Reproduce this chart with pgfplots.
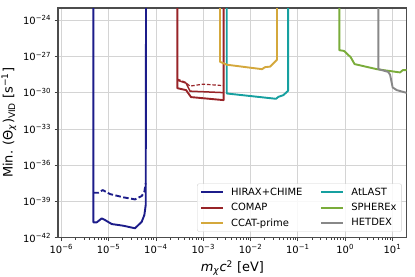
\documentclass[border=0pt]{standalone}
\usepackage{fontspec}
\setmainfont{DejaVu Sans}
\usepackage{pgfplots}
\pgfplotsset{compat=1.18}
\definecolor{cHir}{RGB}{28,28,138}
\definecolor{cCom}{RGB}{152,36,40}
\definecolor{cCcat}{RGB}{212,168,60}
\definecolor{cAtl}{RGB}{22,160,160}
\definecolor{cSph}{RGB}{122,172,58}
\definecolor{cHet}{RGB}{136,136,136}
\begin{document}
\begin{tikzpicture}
\begin{axis}[
 scale only axis,
 width=348.7bp, height=229.7bp,
 xmode=log, ymode=log,
 xmin=8.5e-7, xmax=20,
 ymin=1e-42, ymax=1e-23,
 xtick={1e-6,1e-5,1e-4,1e-3,1e-2,1e-1,1,10},
 ytick={1e-42,1e-39,1e-36,1e-33,1e-30,1e-27,1e-24},
 yminorticks=false,
 xtick pos=left, ytick pos=left,
 tick align=outside,
 major tick length=3.5bp, minor tick length=2bp,
 every tick/.style={black!75, line width=0.8bp},
 grid=major, major grid style={draw=black!17, line width=0.8bp},
 axis line style={draw=black!70, line width=1.1bp},
 log number format basis/.code 2 args={\pgfmathtruncatemacro\myexp{round(#2)}#1\textsuperscript{\ifnum\myexp<0 −\number-\myexp\else\myexp\fi}},
 tick label style={font=\fontsize{10}{12}\selectfont},
 label style={font=\fontsize{13}{15}\selectfont},
 xlabel={\textit{m}\textsubscript{\textit{χ}}\textit{c}\textsuperscript{2} [eV]},
 ylabel={Min. (Θ\textsubscript{\textit{χ}})\textsubscript{VID} [s\textsuperscript{−1}]},
 no markers,
 legend columns=2,
 legend cell align=left,
 legend style={at={(0.986,0.026)}, anchor=south east, draw=black!18, rounded corners=2bp, fill=white, fill opacity=0.85, text opacity=1, draw opacity=1, font=\fontsize{10}{12}\selectfont, row sep=2.5bp,
   /tikz/every odd column/.append style={column sep=5bp},
   /tikz/every even column/.append style={column sep=16bp}},
 legend image code/.code={\draw[#1, line width=2bp, draw opacity=1] (0bp,0bp) -- (22bp,0bp);},
 every axis plot/.append style={line width=1.9bp, line join=round},
]
\coordinate (SW) at (rel axis cs:0,0);
% HIRAX+CHIME solid
\addplot[cHir] coordinates {(4.75e-6,1e-20) (4.75e-6,1.86e-41) (5.60e-6,1.86e-41) (7.14e-6,3.98e-41) (8.39e-6,2.88e-41) (1.164e-5,1.35e-41) (2.05e-5,9.77e-42) (3.61e-5,6.03e-42) (5.01e-5,2.09e-41) (5.69e-5,7.59e-41) (6.08e-5,5.01e-40) (6.18e-5,1e-20)};
\addlegendentry{HIRAX+CHIME}
% AtLAST
\addplot[cAtl] coordinates {(3.14e-3,1e-20) (3.14e-3,8.51e-31) (3.46e-2,3.09e-31) (3.87e-2,4.47e-31) (4.93e-2,6.17e-31) (6.21e-2,1.41e-30) (6.21e-2,1e-20)};
\addlegendentry{AtLAST}
% COMAP solid A
\addplot[cCom] coordinates {(2.83e-4,1e-20) (2.83e-4,2.34e-30) (4.33e-4,1.62e-30) (5.52e-4,4.27e-31) (2.69e-3,2.40e-31) (2.69e-3,1e-20)};
\addlegendentry{COMAP}
% SPHEREx
\addplot[cSph] coordinates {(0.754,1e-20) (0.754,3.24e-27) (0.948,2.82e-27) (1.17,1.26e-27) (1.30,9e-28) (1.58,2.3e-28) (4.66,8.71e-29) (14.5,4.68e-29) (16.5,7.24e-29) (20,7.24e-29)};
\addlegendentry{SPHEREx}
% CCAT-prime
\addplot[cCcat] coordinates {(2.26e-3,1e-20) (2.26e-3,3.55e-28) (3.14e-3,2.04e-28) (1.75e-2,8.71e-29) (2.03e-2,1.29e-28) (2.58e-2,1.41e-28) (3.63e-2,5.37e-28) (3.63e-2,1e-20)};
\addlegendentry{CCAT-prime}
% HETDEX
\addplot[cHet] coordinates {(5.04,1e-20) (5.04,8.71e-29) (8.07,5.25e-29) (8.89,3.09e-29) (10.1,2.69e-30) (12.3,1.62e-30) (20,9.55e-31)};
\addlegendentry{HETDEX}
% extra curves
\addplot[cHir, forget plot, dash pattern=on 5.5bp off 2.5bp] coordinates {(4.75e-6,5.25e-39) (6.05e-6,5.25e-39) (7.50e-6,8.71e-39) (1.07e-5,4.07e-39) (2.05e-5,2.19e-39) (3.61e-5,1.48e-39) (5.01e-5,2.82e-39) (5.69e-5,6.31e-39) (6.08e-5,3.16e-38)};
\addplot[cCom, forget plot, line width=1.5bp] coordinates {(2.83e-4,1.07e-29) (4.33e-4,6.17e-30) (5.26e-4,1.32e-30) (2.69e-3,1.0e-30)};
\addplot[cCom, forget plot, line width=1.2bp, dash pattern=on 3.5bp off 1.8bp] coordinates {(2.83e-4,1.32e-29) (4.12e-4,7.41e-30) (5.26e-4,3.47e-30) (9.91e-4,5.01e-30) (2.69e-3,3.80e-30)};
\end{axis}
\pgfresetboundingbox
\path (SW) ++(-58bp,-39.3bp) rectangle ++(415bp,277bp);
\end{tikzpicture}
\end{document}
